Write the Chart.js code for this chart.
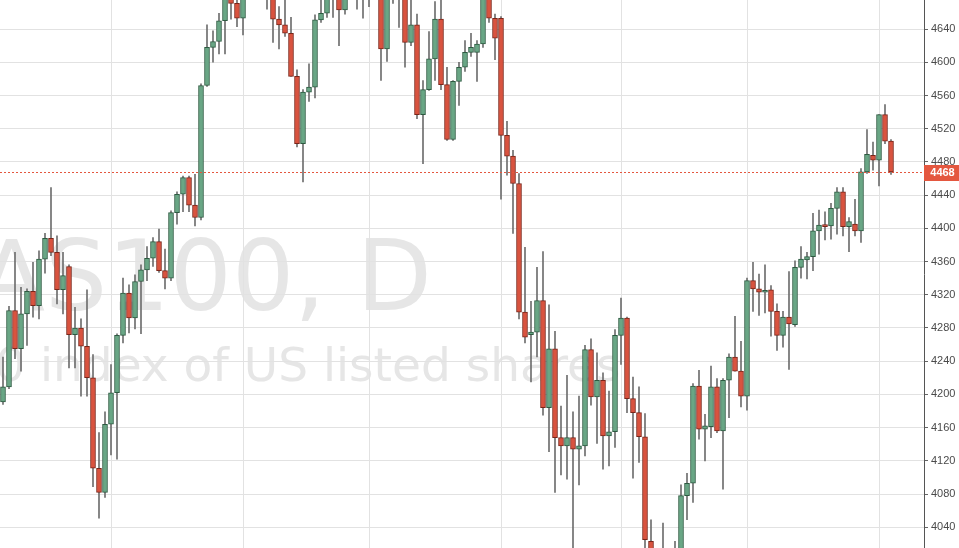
<!DOCTYPE html>
<html>
<head>
<meta charset="utf-8">
<script src="https://cdn.jsdelivr.net/npm/chart.js@4/dist/chart.umd.min.js"></script>
<style>
  html, body { margin: 0; padding: 0; background: #fff; }
  #wrap { width: 959px; height: 548px; position: relative; }
</style>
</head>
<body>
<div id="wrap"><canvas id="priceChart"></canvas></div>
<script>
// daily candles (oldest first)
const opens = [
  4191, 4209, 4301, 4255, 4297, 4324, 4307, 4363, 4388, 4371,
  4326, 4354, 4272, 4280, 4258, 4220, 4111, 4082, 4164, 4202,
  4271, 4322, 4292, 4336, 4350, 4364, 4384, 4349, 4340, 4419,
  4441, 4461, 4428, 4413, 4572, 4618, 4625, 4650, 4692, 4671,
  4653, 4690, 4705, 4700, 4695, 4690, 4652, 4645, 4635, 4583,
  4502, 4564, 4570, 4651, 4659, 4682, 4680, 4663, 4688, 4700,
  4695, 4690, 4698, 4702, 4616, 4690, 4695, 4690, 4624, 4645,
  4537, 4567, 4604, 4652, 4573, 4507, 4577, 4594, 4612, 4612,
  4622, 4685, 4653, 4653, 4512, 4487, 4454, 4299, 4272, 4275,
  4313, 4184, 4255, 4148, 4138, 4148, 4134, 4138, 4254, 4197,
  4217, 4150, 4155, 4271, 4292, 4195, 4178, 4149, 4023, 4005,
  3995, 4008, 3998, 4005, 4078, 4093, 4210, 4158, 4161, 4209,
  4156, 4217, 4245, 4228, 4198, 4337, 4327, 4323, 4326, 4300,
  4271, 4293, 4284, 4353, 4362, 4366, 4397, 4404, 4403, 4424,
  4444, 4402, 4405, 4397, 4468, 4488, 4482, 4537, 4505
];
const highs = [
  4245, 4306, 4371, 4329, 4327, 4359, 4373, 4394, 4449, 4391,
  4371, 4356, 4305, 4291, 4326, 4248, 4154, 4179, 4236, 4273,
  4340, 4332, 4344, 4356, 4378, 4389, 4399, 4375, 4421, 4444,
  4463, 4463, 4465, 4574, 4645, 4638, 4659, 4695, 4700, 4690,
  4695, 4715, 4720, 4712, 4708, 4702, 4667, 4680, 4654, 4591,
  4567, 4598, 4657, 4680, 4690, 4692, 4690, 4695, 4710, 4712,
  4705, 4702, 4712, 4710, 4698, 4705, 4702, 4698, 4682, 4658,
  4578, 4637, 4673, 4680, 4594, 4578, 4600, 4626, 4635, 4626,
  4685, 4690, 4658, 4655, 4529, 4494, 4466, 4377, 4312, 4353,
  4372, 4308, 4276, 4186, 4223, 4179, 4198, 4259, 4267, 4250,
  4226, 4204, 4278, 4316, 4293, 4221, 4209, 4177, 4049, 4012,
  4045, 4013, 4023, 4091, 4105, 4213, 4229, 4176, 4234, 4219,
  4219, 4249, 4294, 4264, 4340, 4359, 4345, 4356, 4331, 4309,
  4300, 4348, 4361, 4378, 4371, 4418, 4422, 4420, 4430, 4449,
  4449, 4413, 4435, 4472, 4519, 4504, 4537, 4549, 4507
];
const lows = [
  4188, 4207, 4243, 4228, 4259, 4293, 4291, 4346, 4367, 4309,
  4297, 4232, 4232, 4198, 4198, 4089, 4051, 4076, 4127, 4122,
  4262, 4274, 4279, 4273, 4337, 4354, 4347, 4327, 4337, 4405,
  4420, 4420, 4403, 4410, 4571, 4600, 4610, 4610, 4652, 4643,
  4633, 4680, 4685, 4682, 4664, 4624, 4616, 4631, 4583, 4498,
  4456, 4553, 4557, 4648, 4654, 4654, 4620, 4658, 4680, 4664,
  4653, 4667, 4680, 4578, 4601, 4671, 4642, 4594, 4620, 4532,
  4478, 4566, 4578, 4567, 4506, 4506, 4548, 4589, 4607, 4577,
  4618, 4648, 4603, 4435, 4464, 4394, 4291, 4262, 4215, 4245,
  4175, 4131, 4082, 4103, 4098, 4000, 4091, 4126, 4187, 4141,
  4110, 4114, 4136, 4236, 4178, 4099, 4118, 4008, 3995, 3985,
  3990, 3985, 3990, 4000, 4049, 4070, 4146, 4120, 4148, 4154,
  4086, 4172, 4228, 4185, 4181, 4300, 4295, 4298, 4270, 4253,
  4257, 4230, 4282, 4340, 4339, 4349, 4369, 4386, 4387, 4393,
  4391, 4372, 4391, 4383, 4466, 4470, 4451, 4502, 4465
];
const closes = [
  4209, 4301, 4255, 4297, 4324, 4307, 4363, 4388, 4371, 4326,
  4343, 4272, 4280, 4258, 4220, 4111, 4082, 4164, 4202, 4271,
  4322, 4292, 4336, 4350, 4364, 4384, 4349, 4340, 4419, 4441,
  4461, 4428, 4413, 4572, 4618, 4625, 4650, 4685, 4671, 4653,
  4690, 4705, 4700, 4695, 4690, 4652, 4645, 4635, 4583, 4502,
  4564, 4570, 4651, 4659, 4682, 4676, 4663, 4688, 4700, 4695,
  4690, 4698, 4702, 4616, 4690, 4695, 4688, 4624, 4645, 4537,
  4567, 4604, 4652, 4573, 4507, 4577, 4594, 4612, 4618, 4622,
  4680, 4653, 4629, 4512, 4487, 4454, 4299, 4269, 4275, 4313,
  4184, 4255, 4148, 4138, 4148, 4134, 4138, 4254, 4197, 4217,
  4150, 4155, 4271, 4292, 4195, 4178, 4149, 4025, 4005, 3995,
  4008, 3998, 4005, 4078, 4093, 4210, 4158, 4162, 4209, 4156,
  4217, 4245, 4228, 4198, 4337, 4327, 4323, 4323, 4300, 4271,
  4293, 4285, 4353, 4363, 4366, 4397, 4404, 4402, 4424, 4444,
  4402, 4408, 4397, 4468, 4489, 4482, 4537, 4505, 4468
];

const emptyDays = 5;                 // blank space right of the last candle
const monthStarts = [18, 40, 61, 83, 103, 124, 146];
const yTicks = [4040, 4080, 4120, 4160, 4200, 4240, 4280, 4320, 4360, 4400,
                4440, 4480, 4520, 4560, 4600, 4640];
const yMin = 4015, yMax = 4675;
const lastPrice = 4468;
const symbolTitle = 'NAS100, D';
const symbolDesc = 'US Tech 100 index of US listed shares';

const days = [];
for (let i = 0; i < closes.length + emptyDays; i++) days.push(String(i));

const upFill = '#69a685', upLine = '#2d5a41';
const downFill = '#d9533f', downLine = '#7a2519';
const priceRed = '#e4573f';

// watermark behind everything
const watermark = {
  id: 'watermark',
  beforeDraw(chart) {
    const ctx = chart.ctx;
    ctx.save();
    ctx.fillStyle = '#e6e6e6';
    ctx.textBaseline = 'alphabetic';
    ctx.font = '98px "DejaVu Sans"';
    ctx.textAlign = 'right';
    ctx.fillText(symbolTitle, 432, 310);
    ctx.font = '47px "DejaVu Sans"';
    ctx.textAlign = 'left';
    const pre = ctx.measureText('US Tech 100 ').width;
    ctx.fillText(symbolDesc, 40 - pre, 381);
    ctx.restore();
  }
};

// last price line and label on the axis
const priceLine = {
  id: 'priceLine',
  afterDatasetsDraw(chart) {
    const ctx = chart.ctx, area = chart.chartArea;
    const y = Math.round(chart.scales.y.getPixelForValue(lastPrice)) + 0.5;
    ctx.save();
    ctx.strokeStyle = priceRed;
    ctx.lineWidth = 1;
    ctx.setLineDash([2, 2]);
    ctx.beginPath();
    ctx.moveTo(area.left, y);
    ctx.lineTo(area.right, y);
    ctx.stroke();
    ctx.restore();
  },
  afterDraw(chart) {
    const ctx = chart.ctx, area = chart.chartArea;
    const y = Math.round(chart.scales.y.getPixelForValue(lastPrice));
    ctx.save();
    ctx.fillStyle = priceRed;
    ctx.fillRect(area.right, y - 7, chart.width - area.right, 16);
    ctx.fillStyle = '#fff';
    ctx.font = 'bold 11px "Liberation Sans"';
    ctx.textAlign = 'center';
    ctx.textBaseline = 'middle';
    ctx.fillText(String(lastPrice), (area.right + chart.width) / 2 + 1, y + 1);
    ctx.restore();
  }
};

const ctx = document.getElementById('priceChart').getContext('2d');
new Chart(ctx, {
  type: 'bar',
  data: {
    labels: days,
    datasets: [
      {
        label: 'body',
        order: 0,
        data: opens.map((o, i) => [o, closes[i]]),
        backgroundColor: opens.map((o, i) => closes[i] >= o ? upFill : downFill),
        borderColor: opens.map((o, i) => closes[i] >= o ? upLine : downLine),
        borderWidth: 1,
        borderSkipped: false,
        barThickness: 5,
        minBarLength: 2,
        grouped: false
      },
      {
        label: 'wick',
        order: 1,
        data: lows.map((l, i) => [l, highs[i]]),
        backgroundColor: '#6e6e6e',
        borderWidth: 0,
        barThickness: 1,
        grouped: false
      }
    ]
  },
  options: {
    responsive: true,
    maintainAspectRatio: false,
    animation: false,
    layout: { padding: 0, autoPadding: false },
    plugins: {
      legend: { display: false },
      tooltip: { enabled: false }
    },
    scales: {
      x: {
        offset: true,
        ticks: { display: false, autoSkip: false },
        border: { display: false },
        grid: {
          offset: false,
          drawTicks: false,
          color: c => monthStarts.includes(c.index) ? '#e2e2e2' : 'rgba(0,0,0,0)'
        },
        afterFit: s => { s.height = 0; s.paddingLeft = 0; s.paddingRight = 0; }
      },
      y: {
        position: 'right',
        min: yMin,
        max: yMax,
        afterBuildTicks: s => { s.ticks = yTicks.map(v => ({ value: v })); },
        // labels never sit at the ends, so no room is needed above or below
        afterFit: s => { s.width = 35; s.paddingTop = 0; s.paddingBottom = 0; },
        border: { display: true, color: '#555', width: 1 },
        grid: { color: '#e2e2e2', tickLength: 4, tickColor: '#666' },
        ticks: {
          padding: 3,
          color: '#4a4a4a',
          font: { family: '"Liberation Sans", Arial', size: 11 },
          callback: v => String(v)
        }
      }
    }
  },
  plugins: [watermark, priceLine]
});
</script>
</body>
</html>
